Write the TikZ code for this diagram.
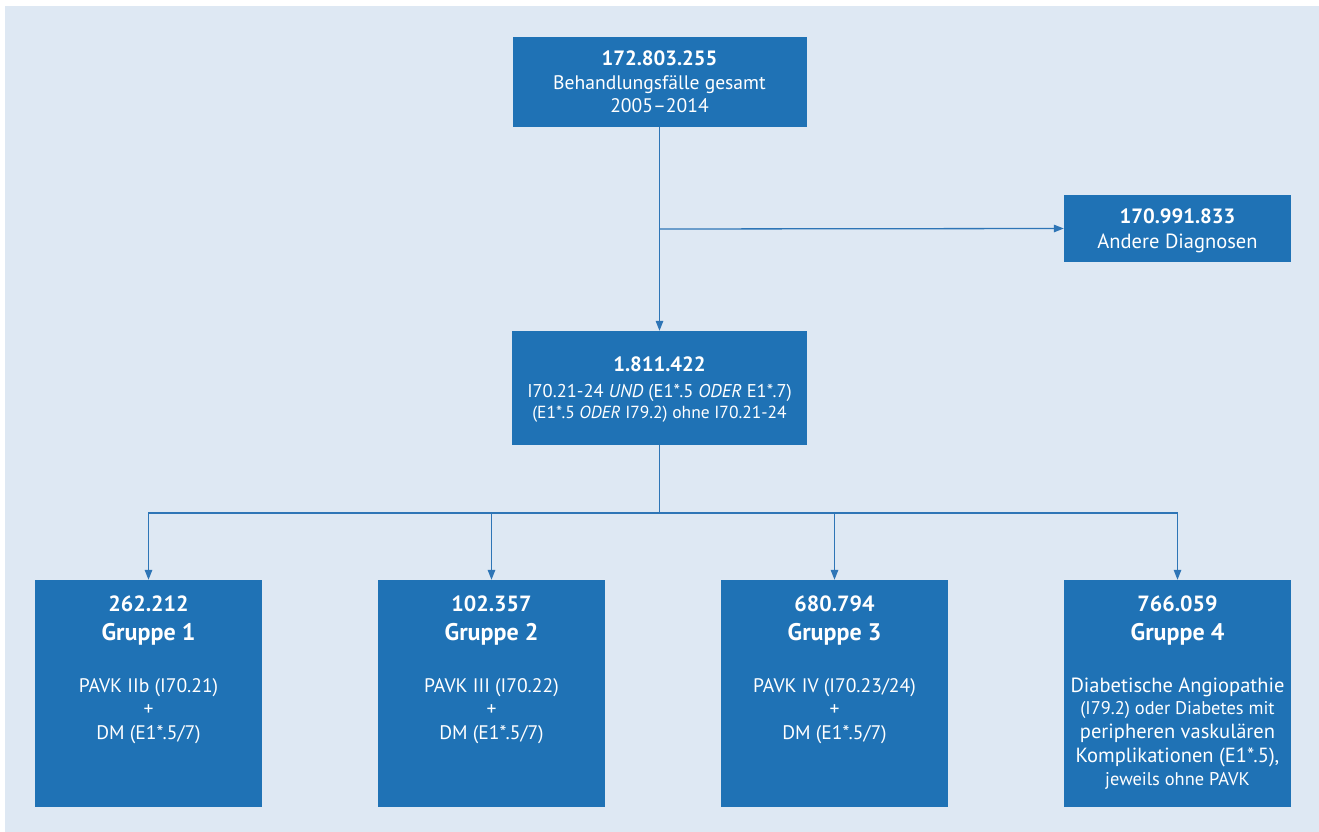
\documentclass[tikz,border=0pt]{standalone}
\usepackage{fontspec}
\setmainfont{PT Sans}
\usetikzlibrary{arrows.meta}
\definecolor{bgblue}{RGB}{222,232,243}
\definecolor{boxblue}{RGB}{31,114,181}
\definecolor{lineblue}{RGB}{46,117,182}
\tikzset{
  box/.style={rectangle, fill=boxblue, draw=none, inner sep=0pt},
  gbox/.style={box, minimum width=227pt, minimum height=227pt},
  txt/.style={anchor=base, text=white, inner sep=0pt},
  numtxt/.style={txt, font=\bfseries\fontsize{20.7}{24}\selectfont},
  gnumtxt/.style={txt, font=\bfseries\fontsize{22}{26}\selectfont},
  grptxt/.style={txt, font=\bfseries\fontsize{24}{28}\selectfont},
  bodytxt/.style={txt, font=\fontsize{19.6}{23}\selectfont},
  widetxt/.style={txt, font=\fontsize{20.5}{23}\selectfont},
  smalltxt/.style={txt, font=\fontsize{18.4}{21}\selectfont},
  midtxt/.style={txt, font=\fontsize{18.5}{21}\selectfont},
  tinytxt/.style={txt, font=\fontsize{17.5}{20}\selectfont},
  conn/.style={draw=lineblue, line width=1.3pt},
  arr/.style={conn, -{Triangle[length=10pt,width=7.5pt]}}
}
\begin{document}
\begin{tikzpicture}[x=1pt,y=-1pt]
\useasboundingbox (0,0) rectangle (1319,832);
\fill[bgblue] (5,6) rectangle (1319,832);

% boxes
\node[box, minimum width=294pt, minimum height=90pt] (top) at (659.5,82) {};
\node[box, minimum width=295pt, minimum height=114pt] (mid) at (659.5,388) {};
\node[box, minimum width=227pt, minimum height=67pt] (and) at (1177.5,228.5) {};
\node[gbox] (g1) at (148.5,693.5) {};
\node[gbox] (g2) at (491.5,693.5) {};
\node[gbox] (g3) at (834.5,693.5) {};
\node[gbox] (g4) at (1177.5,693.5) {};

% top text
\node[numtxt] (ta) at (659.5,66) {172.803.255};
\node[bodytxt] (tb) at (659.5,90) {Behandlungsfälle gesamt};
\node[bodytxt] (tc) at (659.5,113) {2005–2014};

% andere
\node[numtxt] (aa) at (1177.5,223) {170.991.833};
\node[widetxt] (ab) at (1177.5,248) {Andere Diagnosen};

% middle
\node[numtxt] (ma) at (659.5,371) {1.811.422};
\node[midtxt] (mb) at (659.5,397) {I70.21-24 \textit{UND} (E1*.5 \textit{ODER} E1*.7)};
\node[tinytxt] (mc) at (659.5,418) {(E1*.5 \textit{ODER} I79.2) ohne I70.21-24};

% group 1
\node[gnumtxt] (g1a) at (148.5,611.5) {262.212};
\node[grptxt] (g1b) at (148.5,640) {Gruppe 1};
\node[bodytxt] (g1c) at (148.5,692) {PAVK IIb (I70.21)};
\node[bodytxt] (g1d) at (148.5,715.5) {+};
\node[bodytxt] (g1e) at (148.5,739) {DM (E1*.5/7)};

% group 2
\node[gnumtxt] (g2a) at (491.5,611.5) {102.357};
\node[grptxt] (g2b) at (491.5,640) {Gruppe 2};
\node[bodytxt] (g2c) at (491.5,692) {PAVK III (I70.22)};
\node[bodytxt] (g2d) at (491.5,715.5) {+};
\node[bodytxt] (g2e) at (491.5,739) {DM (E1*.5/7)};

% group 3
\node[gnumtxt] (g3a) at (834.5,611.5) {680.794};
\node[grptxt] (g3b) at (834.5,640) {Gruppe 3};
\node[bodytxt] (g3c) at (834.5,692) {PAVK IV (I70.23/24)};
\node[bodytxt] (g3d) at (834.5,715.5) {+};
\node[bodytxt] (g3e) at (834.5,739) {DM (E1*.5/7)};

% group 4
\node[gnumtxt] (g4a) at (1177.5,611.5) {766.059};
\node[grptxt] (g4b) at (1177.5,640) {Gruppe 4};
\node[widetxt] (g4c) at (1177.5,692) {Diabetische Angiopathie};
\node[smalltxt] (g4d) at (1177.5,714) {(I79.2) oder Diabetes mit};
\node[widetxt] (g4e) at (1177.5,738) {peripheren vaskulären};
\node[widetxt] (g4f) at (1177.5,762) {Komplikationen (E1*.5),};
\node[smalltxt] (g4g) at (1177.5,785) {jeweils ohne PAVK};

% connectors
\draw[arr] (top.south) -- (mid.north);
\coordinate (br) at (659.5,229);
\draw[arr] (br) -- (and.west);
\draw[conn] (mid.south) -- (659.5,513) coordinate (j);
\draw[arr] (j) -| (g1.north);
\draw[arr] (j) -| (g2.north);
\draw[arr] (j) -| (g3.north);
\draw[arr] (j) -| (g4.north);
\end{tikzpicture}
\end{document}
